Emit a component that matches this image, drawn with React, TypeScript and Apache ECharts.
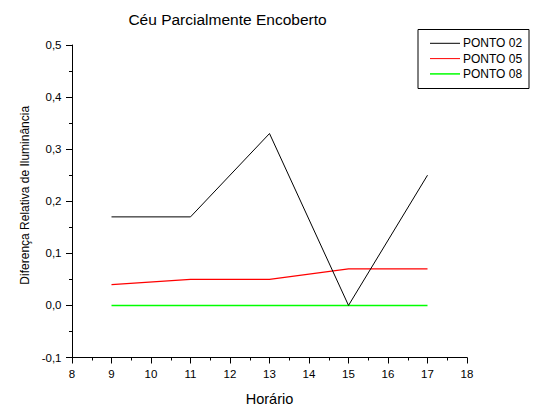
import React, { useEffect, useRef } from "react";
import * as echarts from "echarts";

const hours = [9, 11, 13, 15, 17];
const ponto02 = [0.17, 0.17, 0.33, 0.0, 0.25];
const ponto05 = [0.04, 0.05, 0.05, 0.07, 0.07];
const ponto08 = [0.0, 0.0, 0.0, 0.0, 0.0];
const seriesNames = ["PONTO 02", "PONTO 05", "PONTO 08"];
const seriesColors = ["#000000", "#ff0000", "#00ff00"];
const seriesWidths = [1, 1.2, 1.5];

const FONT = "Liberation Sans, Arial, sans-serif";

export default function App() {
  const ref = useRef<HTMLDivElement>(null);
  useEffect(() => {
    if (!ref.current) return;
    const chart = echarts.init(ref.current, undefined, { renderer: "svg" });
    const dataSets = [ponto02, ponto05, ponto08];
    chart.setOption({
      animation: false,
      backgroundColor: "#ffffff",
      textStyle: { fontFamily: FONT },
      title: {
        text: "Céu Parcialmente Encoberto",
        left: 222.5,
        textAlign: "center",
        top: 6,
        textStyle: { fontSize: 15.5, fontWeight: "normal", color: "#000", fontFamily: FONT },
      },
      graphic: [
        {
          type: "rect",
          shape: { x: 418, y: 29.5, width: 111, height: 59 },
          style: { fill: "#fff", stroke: "#000", lineWidth: 1 },
          z: 5,
        },
      ],
      legend: {
        orient: "vertical",
        left: 430,
        top: 37.3,
        padding: 0,
        itemWidth: 30,
        itemHeight: 10,
        itemGap: 3.3,
        z: 10,
        textStyle: { fontSize: 12, color: "#000", fontFamily: FONT, padding: [0, 0, 0, -2] },
        data: seriesNames.map((n, i) => ({
          name: n,
          icon: i === 2 ? "path://M0,4.5L30,4.5L30,6L0,6Z" : "path://M0,5L30,5L30,6L0,6Z",
        })),
      },
      grid: { left: 72, right: 70, top: 45, bottom: 51 },
      xAxis: {
        type: "value",
        min: 8,
        max: 18,
        interval: 1,
        name: "Horário",
        nameLocation: "middle",
        nameGap: 33.5,
        nameTextStyle: { fontSize: 14.5, color: "#000", fontFamily: FONT },
        axisLine: { show: true, onZero: false, lineStyle: { color: "#000", width: 1 } },
        axisTick: { show: true, length: 6, inside: false, lineStyle: { color: "#000" } },
        minorTick: { show: true, splitNumber: 2, length: 3, lineStyle: { color: "#000" } },
        axisLabel: { fontSize: 11.5, color: "#000", margin: 10.5, fontFamily: FONT },
        splitLine: { show: false },
      },
      yAxis: {
        type: "value",
        min: -0.1,
        max: 0.5,
        interval: 0.1,
        name: "Diferença Relativa de Iluminância",
        nameLocation: "middle",
        nameGap: 36.5,
        nameTextStyle: { fontSize: 12, color: "#000", fontFamily: FONT, padding: [0, 0, 0, 12] },
        axisLine: { show: true, onZero: false, lineStyle: { color: "#000", width: 1 } },
        axisTick: { show: true, length: 6, lineStyle: { color: "#000" } },
        minorTick: { show: true, splitNumber: 2, length: 3, lineStyle: { color: "#000" } },
        axisLabel: {
          fontSize: 11.5,
          color: "#000",
          margin: 10.5,
          fontFamily: FONT,
          formatter: (v: number) => (Math.round(v * 10) / 10).toFixed(1).replace(".", ","),
        },
        splitLine: { show: false },
      },
      series: seriesNames.map((name, i) => ({
        name,
        type: "line",
        data: hours.map((h, j) => [h, dataSets[i][j]]),
        symbol: "none",
        lineStyle: { color: seriesColors[i], width: seriesWidths[i] },
        itemStyle: { color: seriesColors[i] },
        z: 3 - i,
      })),
    });
    return () => chart.dispose();
  }, []);
  return <div ref={ref} style={{ width: 537, height: 411, position: "absolute", left: 0, top: 0 }} />;
}
